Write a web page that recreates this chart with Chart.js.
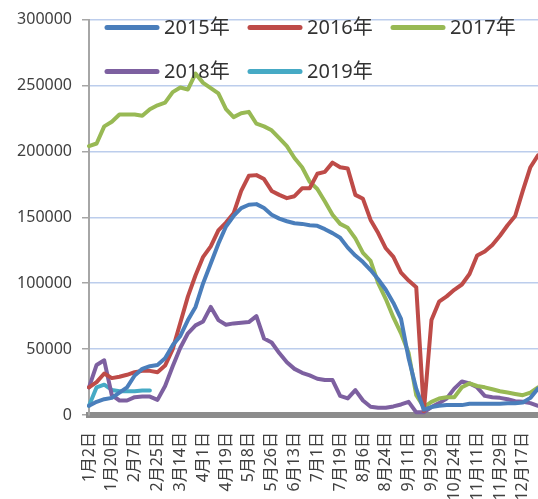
<!DOCTYPE html>
<html>
<head>
<meta charset="utf-8">
<script src="https://cdn.jsdelivr.net/npm/chart.js@4.4.1/dist/chart.umd.min.js"></script>
<style>
  html, body { margin: 0; padding: 0; background: #fff; }
  #wrap { width: 538px; height: 499px; }
</style>
</head>
<body>
<div id="wrap"><canvas id="grafico"></canvas></div>
<script>
// fechas (eje x), solo algunas se muestran como etiqueta
const fechas = [
  '1月2日','1月8日','1月14日','1月20日','1月26日','2月1日',
  '2月7日','2月13日','2月19日','2月25日','3月2日','3月8日',
  '3月14日','3月20日','3月26日','4月1日','4月7日','4月13日',
  '4月19日','4月26日','5月2日','5月8日','5月14日','5月20日',
  '5月26日','6月1日','6月7日','6月13日','6月19日','6月25日',
  '7月1日','7月7日','7月13日','7月19日','7月25日','7月31日',
  '8月6日','8月12日','8月18日','8月24日','8月30日','9月5日',
  '9月11日','9月17日','9月23日','9月29日','10月12日','10月18日',
  '10月24日','10月30日','11月5日','11月11日','11月17日','11月23日',
  '11月29日','12月5日','12月11日','12月17日','12月23日','12月29日'
];
const etiquetasX = ['1月2日','1月20日','2月7日','2月25日','3月14日','4月1日','4月19日',
  '5月8日','5月26日','6月13日','7月1日','7月19日','8月6日','8月24日','9月11日',
  '9月29日','10月24日','11月11日','11月29日','12月17日'];

const anios = ['2015年','2016年','2017年','2018年','2019年'];
const colores = ['#4a7ebb','#be4b48','#98b954','#7d60a0','#46aac5'];

const s2015 = [7000,10000,12000,13000,17000,21000,30000,35000,37000,38000,
  43000,53000,60000,72000,82000,100000,115000,130000,143000,151000,
  157000,159500,160000,157000,152000,149000,147000,145500,145000,144000,
  143500,141000,138000,134500,127000,121000,116000,110000,103000,95000,
  85000,73000,43000,20000,4000,6000,7000,7500,7500,7500,
  8500,8500,8500,8500,8500,9000,9000,9500,13000,20000];
const s2016 = [21000,25000,31500,28000,29000,30500,32500,33500,33500,32500,
  37500,50000,70000,90000,106000,120000,128000,140000,146000,153000,
  170000,181500,182000,179000,170000,167000,164500,166000,172000,172000,
  183000,184500,191500,188000,187000,167000,164000,148000,138000,126500,
  120000,108000,102000,97000,3000,72000,86000,90000,95000,99000,
  107000,121000,124000,129000,136000,144000,151000,170000,188000,197000];
const s2017 = [204000,206000,219000,222500,228000,228000,228000,227000,232000,235000,
  237000,245000,248500,247000,259000,252000,248000,244000,232000,226000,
  229000,230000,221000,219000,216000,210000,204000,195000,188000,177000,
  171500,162000,152000,145000,142000,134000,123000,117000,100000,88000,
  74000,62000,47000,15000,6000,10000,12500,13500,13500,21000,
  24000,22000,21000,19500,18000,17000,16000,15000,17000,21000];
const s2018 = [21000,38000,41500,15000,11000,11000,13500,14000,14000,11500,
  22000,37000,51000,62000,68000,71000,82000,72000,68500,69500,
  70000,70500,75000,58000,55000,47000,40000,35000,32000,30000,
  27500,26500,26500,14500,12600,18900,11000,6300,5500,5500,
  6500,8000,10000,2000,2000,6000,9000,12500,20000,25500,
  24000,21000,14500,13500,13000,12000,10500,10000,9000,7000];
const s2019 = [7000,21000,23000,19000,18000,18000,18000,18500,18500];

const series = [s2015, s2016, s2017, s2018, s2019];

const fuente = "'Noto Sans', 'Noto Sans CJK SC', sans-serif";

// leyenda dibujada dentro del area del grafico (como en excel)
const leyendaInterna = {
  id: 'leyendaInterna',
  afterDraw(chart) {
    const ctx = chart.ctx;
    const area = chart.chartArea;
    ctx.save();
    chart.data.datasets.forEach((ds, i) => {
      const col = i % 3;
      const fila = Math.floor(i / 3);
      const x0 = area.left + 18 + col * 143;
      const y = area.top + 8 + fila * 44;
      ctx.strokeStyle = ds.borderColor;
      ctx.lineWidth = 5;
      ctx.lineCap = 'round';
      ctx.beginPath();
      ctx.moveTo(x0, y);
      ctx.lineTo(x0 + 50, y);
      ctx.stroke();
      ctx.fillStyle = '#333333';
      ctx.font = '20px ' + fuente;
      ctx.textBaseline = 'middle';
      ctx.textAlign = 'left';
      ctx.fillText(ds.label, x0 + 57, y + 1);
    });
    ctx.restore();
  }
};

const misDatos = [];
for (let i = 0; i < anios.length; i++) {
  misDatos.push({
    label: anios[i],
    data: series[i],
    borderColor: colores[i],
    backgroundColor: colores[i],
    borderWidth: 4,
    borderJoinStyle: 'round',
    borderCapStyle: 'round',
    pointRadius: 0,
    tension: 0,
    fill: false
  });
}

const ctx = document.getElementById('grafico');
new Chart(ctx, {
  type: 'line',
  data: { labels: fechas, datasets: misDatos },
  options: {
    responsive: true,
    maintainAspectRatio: false,
    animation: false,
    layout: { padding: { top: 19, right: 0, left: 0, bottom: 0 } },
    plugins: {
      legend: { display: false },
      tooltip: { enabled: false }
    },
    scales: {
      x: {
        type: 'category',
        grid: { display: false, drawTicks: false },
        border: { display: true, color: '#8c8c8c', width: 6 },
        afterFit: (s) => {
          s.height = 84;
          // sin margen extra a los lados, las lineas llegan al borde
          s.paddingLeft = 0;
          s.paddingRight = 0;
        },
        ticks: {
          autoSkip: false,
          minRotation: 90,
          maxRotation: 90,
          padding: 17,
          color: '#404040',
          font: { size: 16, family: fuente },
          callback: function (value) {
            const lab = this.getLabelForValue(value);
            return etiquetasX.includes(lab) ? lab : null;
          }
        }
      },
      y: {
        min: 0,
        max: 300000,
        afterFit: (s) => { s.width = 89; },
        grid: { color: '#bccdec', lineWidth: 1.5, tickColor: '#a6a6a6', tickLength: 7 },
        border: { display: true, color: '#a6a6a6', width: 2 },
        ticks: {
          stepSize: 50000,
          padding: 10,
          color: '#404040',
          font: { size: 16, family: fuente },
          callback: (v) => String(v)
        }
      }
    }
  },
  plugins: [leyendaInterna]
});
</script>
</body>
</html>
